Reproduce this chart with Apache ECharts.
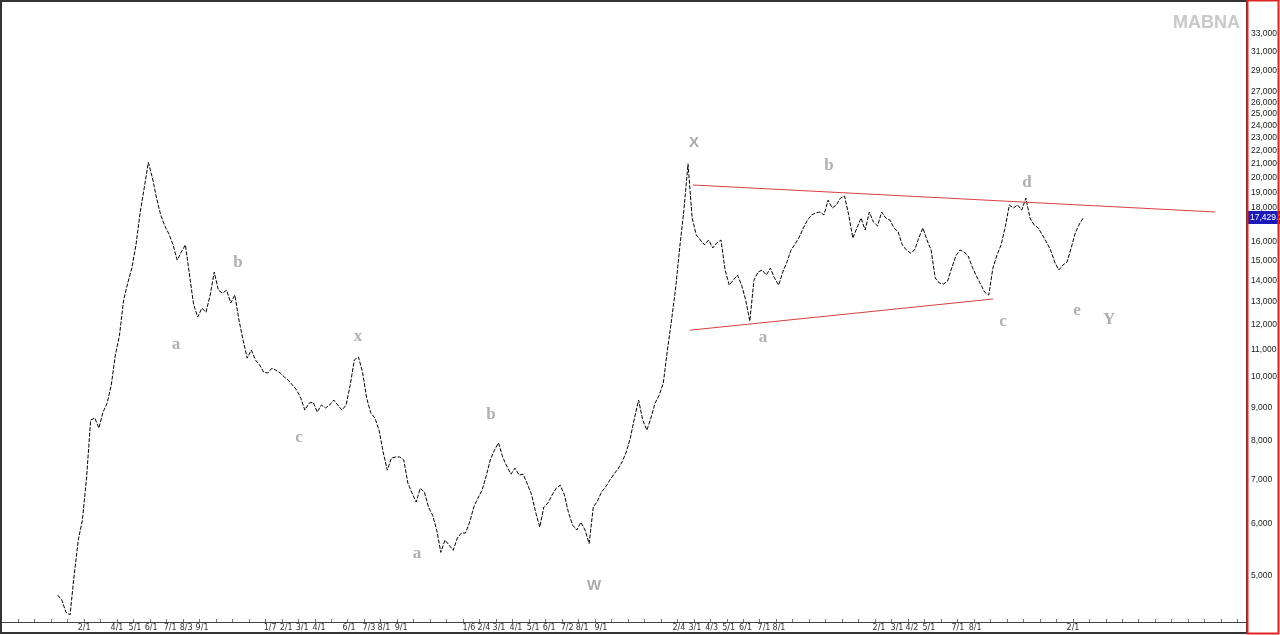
<!DOCTYPE html>
<html><head><meta charset="utf-8">
<script src="https://cdn.jsdelivr.net/npm/echarts@6/dist/echarts.min.js"></script>
<style>html,body{margin:0;padding:0;background:#fff}#c{width:1280px;height:635px}</style>
</head><body><div id="c"></div>
<script>
// ---- data (x in months from start of year 1, one close every quarter month) ----
const startMonth = -0.6;
const monthStep = 0.25;
const prices = [
  4680, 4600, 4410, 4370, 5020, 5670, 6080, 7030, 8610, 8670,
  8370, 8850, 9130, 9720, 10800, 11570, 13070, 13870, 14610, 15840,
  17700, 19310, 21100, 19990, 18640, 17580, 16920, 16450, 15840, 15020,
  15450, 15840, 14260, 12850, 12320, 12710, 12530, 13300, 14410, 13530,
  13390, 13530, 12940, 13300, 12190, 11370, 10680, 10980, 10610, 10430,
  10170, 10140, 10310, 10240, 10140, 10000, 9890, 9720, 9555, 9290,
  8910, 9130, 9160, 8850, 9070, 8980, 9070, 9230, 9070, 8910,
  9070, 9720, 10610, 10720, 10170, 9290, 8820, 8670, 8310, 7700,
  7230, 7540, 7570, 7570, 7490, 6910, 6680, 6470, 6790, 6700,
  6360, 6180, 5870, 5430, 5670, 5570, 5470, 5710, 5810, 5810,
  6035, 6360, 6560, 6745, 7080, 7490, 7750, 7950, 7570, 7330,
  7130, 7280, 7110, 7130, 6890, 6650, 6250, 5930, 6360, 6450,
  6630, 6790, 6860, 6630, 6230, 5970, 5870, 6030, 5870, 5600,
  6360, 6490, 6700, 6820, 6980, 7130, 7260, 7440, 7700, 8090,
  8670, 9230, 8610, 8310, 8670, 9130, 9390, 9790, 10980, 12190,
  13630, 15730, 17880, 21000, 17390, 16400, 16110, 15840, 16110, 15670,
  15950, 16110, 14510, 13770, 14010, 14260, 13770, 13070, 12150, 14010,
  14410, 14510, 14260, 14610, 14110, 13770, 14410, 14920, 15560, 15890,
  16280, 16800, 17270, 17580, 17700, 17760, 17580, 18510, 18010, 18200,
  18640, 18770, 17580, 16220, 16800, 17390, 16680, 17760, 17150, 16920,
  17760, 17390, 17270, 16800, 16570, 15840, 15560, 15400, 15560, 16220,
  16800, 16110, 15560, 14110, 13870, 13820, 13960, 14610, 15240, 15560,
  15450, 15240, 14660, 14210, 13820, 13440, 13300, 14610, 15290, 15840,
  16860, 18200, 18010, 18200, 17880, 18640, 17390, 16980, 16800, 16400,
  16000, 15560, 14920, 14510, 14770, 14920, 15670, 16510, 17030, 17429.2
];
const lastPrice = 17429.2;

const xLabelTexts = ['2/1','4/1','5/1','6/1','7/1','8/3','9/1',
  '1/7','2/1','3/1','4/1','6/1','7/3','8/1','9/1',
  '1/6','2/4','3/1','4/1','5/1','6/1','7/2','8/1','9/1',
  '2/4','3/1','4/3','5/1','6/1','7/1','8/1',
  '2/1','3/1','4/2','5/1','7/1','8/1','2/1'];
const xLabelMonths = [1.00,3.00,4.09,5.07,6.22,7.19,8.16,
  12.29,13.26,14.23,15.26,17.08,18.29,19.20,20.24,
  24.36,25.27,26.18,27.21,28.25,29.22,30.31,31.22,32.37,
  37.10,38.07,39.08,40.11,41.14,42.26,43.17,
  49.24,50.33,51.24,52.27,54.03,55.07,61.01];

const yTickValues = [5000,6000,7000,8000,9000,10000,11000,12000,13000,14000,15000,
  16000,18000,19000,20000,21000,22000,23000,24000,25000,26000,27000,29000,31000,33000];

const upperLine = [[37.95, 19510], [69.63, 17760]];
const lowerLine = [[37.77, 11770], [56.16, 13120]];

const waveNames  = ['a','b','c','x','a','b','W','X','a','b','c','d','e','Y'];
const waveMonths = [6.58,10.34,14.05,17.63,21.21,25.70,31.95,38.01,42.20,46.21,56.76,58.22,61.26,63.20];
const waveValues = [11200,14870,8085,11490,5417,8760,4830,22570,11450,20840,12110,19640,12620,12190];

// ---- chart ----
const chart = echarts.init(document.getElementById('c'), null, {renderer:'canvas'});
const monthTicks = [];
for (let m = -3; m <= 71; m++) monthTicks.push(m);

const serifLabel = {fontFamily:'Liberation Serif', fontWeight:'bold', fontSize:17, color:'#9c9c9c'};
const sansLabel = {fontFamily:'Liberation Sans', fontWeight:'bold', fontSize:15, color:'#959595'};

chart.setOption({
  animation:false,
  backgroundColor:'#fff',
  title:{text:'MABNA', left:1168, top:9, textStyle:{fontFamily:'Liberation Sans', fontWeight:'bold', fontSize:18, color:'#c8c8c8'}},
  grid:{left:2, right:33, top:2, bottom:13, containLabel:false},
  xAxis:{
    type:'value', min:-3.98, max:71.57,
    splitLine:{show:false},
    axisLine:{show:true, onZero:false, lineStyle:{color:'#444', width:1}},
    axisTick:{show:true, inside:true, length:3, lineStyle:{color:'#777'}, customValues:monthTicks},
    axisLabel:{show:true, margin:2, fontSize:8, fontFamily:'DejaVu Sans', color:'#333',
      customValues:xLabelMonths,
      formatter:function(v){
        let best=0, bd=1e9;
        for (let i=0;i<xLabelMonths.length;i++){const d=Math.abs(xLabelMonths[i]-v); if(d<bd){bd=d;best=i;}}
        return xLabelTexts[best];
      }}
  },
  yAxis:{
    type:'log', logBase:10, min:4262, max:36890, position:'right',
    splitLine:{show:false},
    axisLine:{show:false},
    axisTick:{show:false},
    axisLabel:{show:true, margin:4, fontSize:8.5, fontFamily:'Liberation Sans', color:'#1a1a1a',
      customValues:yTickValues,
      formatter:function(v){return Math.round(v).toLocaleString('en-US');}}
  },
  series:[
    {
      type:'line', name:'price', showSymbol:false, clip:true,
      lineStyle:{color:'#000', width:1, type:[4,1.5]},
      data:prices.map((p,i)=>[startMonth+i*monthStep, p]),
      markLine:{silent:true, symbol:'none', animation:false,
        lineStyle:{color:'rgba(0,0,0,0)', width:0},
        label:{show:true, position:'end', distance:1, color:'#fff', backgroundColor:'#1a1ab8',
          fontSize:8.5, fontFamily:'Liberation Sans', padding:[2,3,2,2],
          formatter:()=>lastPrice.toLocaleString('en-US',{minimumFractionDigits:1})},
        data:[{yAxis:lastPrice}]}
    },
    {type:'line', showSymbol:false, data:upperLine, lineStyle:{color:'#d94040', width:1}},
    {type:'line', showSymbol:false, data:lowerLine, lineStyle:{color:'#d94040', width:1}},
    {
      type:'scatter', symbolSize:0, silent:true,
      data:waveNames.map((n,i)=>({name:n, value:[waveMonths[i], waveValues[i]],
        label:Object.assign({show:true, position:'inside', formatter:'{b}'},
          (n==='W'||n==='X') ? sansLabel : serifLabel)}))
    }
  ],
  graphic:[
    {type:'rect', z:100, silent:true, shape:{x:1, y:1, width:1246, height:632}, style:{fill:null, stroke:'#333', lineWidth:2}},
    {type:'rect', z:101, silent:true, shape:{x:1247.5, y:0.5, width:31, height:633}, style:{fill:null, stroke:'#e02424', lineWidth:2}}
  ]
});
</script>
</body></html>
